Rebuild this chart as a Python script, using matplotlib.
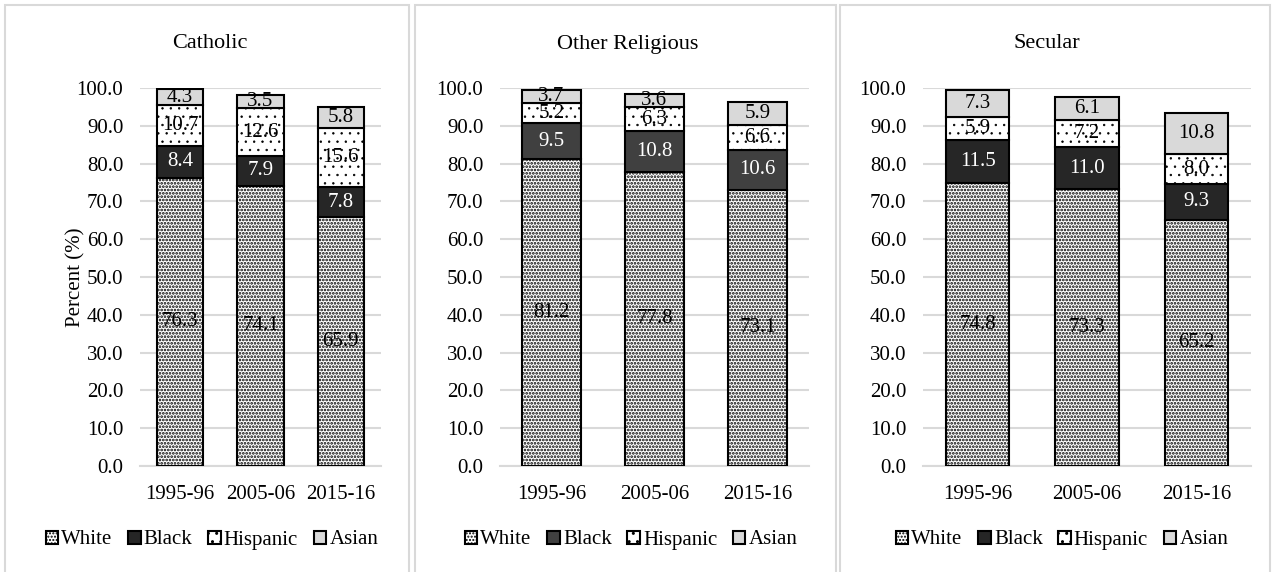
import matplotlib
matplotlib.use("Agg")
import matplotlib.pyplot as plt
from matplotlib.patches import Rectangle
import numpy as np

plt.rcParams['font.family'] = ['Liberation Serif', 'DejaVu Serif']

years = ["1995-96", "2005-06", "2015-16"]
sectors = ["Catholic", "Other Religious", "Secular"]
races = ["White", "Black", "Hispanic", "Asian"]

catholic_white = [76.3, 74.1, 65.9]
catholic_black = [8.4, 7.9, 7.8]
catholic_hispanic = [10.7, 12.6, 15.6]
catholic_asian = [4.3, 3.5, 5.8]

other_white = [81.2, 77.8, 73.1]
other_black = [9.5, 10.8, 10.6]
other_hispanic = [5.2, 6.3, 6.6]
other_asian = [3.7, 3.6, 5.9]

secular_white = [74.8, 73.3, 65.2]
secular_black = [11.5, 11.0, 9.3]
secular_hispanic = [5.9, 7.2, 8.0]
secular_asian = [7.3, 6.1, 10.8]

yticks = [0, 10, 20, 30, 40, 50, 60, 70, 80, 90, 100]

data = {
    "Catholic": [catholic_white, catholic_black, catholic_hispanic, catholic_asian],
    "Other Religious": [other_white, other_black, other_hispanic, other_asian],
    "Secular": [secular_white, secular_black, secular_hispanic, secular_asian],
}

W, H = 1276, 572
fig = plt.figure(figsize=(W / 100, H / 100), dpi=100)

def fx(px):
    return px / W

def fy(py):
    return 1 - py / H

panels = [(5, 409), (415, 836), (840, 1270)]
for l, r in panels:
    fig.add_artist(Rectangle((fx(l), fy(600)), fx(r - l), (600 - 5) / H,
                             transform=fig.transFigure, fill=False,
                             edgecolor='#d9d9d9', linewidth=1.5))

axes_px = [(140, 381), (500, 809), (923, 1251)]
title_x = [210, 628, 1047]
legend_x = [212, 631, 1062]
ytop, ybot = 88, 466
black_colors = ['#262626', '#404040', '#262626']
fills = ['white', None, 'white', '#d9d9d9']
hatches = ['.....', None, '..', None]
hatch_lw = [1.3, 1.0, 0.5, 1.0]
fs = 15

for i, sector in enumerate(sectors):
    l, r = axes_px[i]
    ax = fig.add_axes([fx(l), fy(ybot), fx(r - l), (ybot - ytop) / H])
    x = np.arange(len(years))
    bottom = np.zeros(len(years))
    handles = []
    for j, race in enumerate(races):
        vals = np.array(data[sector][j])
        fc = black_colors[i] if j == 1 else fills[j]
        with plt.rc_context({'hatch.linewidth': hatch_lw[j]}):
            bars = ax.bar(x, vals, 0.58, bottom=bottom, edgecolor='black',
                          linewidth=1.5, zorder=3, label=race, facecolor=fc,
                          hatch=hatches[j])
        for b in bars:
            if hasattr(b, 'set_hatch_linewidth'):
                b.set_hatch_linewidth(hatch_lw[j])
        tc = 'white' if j == 1 else 'black'
        for xi, v, b0 in zip(x, vals, bottom):
            ax.text(xi, b0 + v / 2, f"{v:.1f}", ha='center', va='center',
                    fontsize=fs, color=tc, zorder=5)
        bottom += vals
        handles.append(bars)
    ax.set_xlim(-0.5, 2.5)
    ax.set_ylim(0, 100)
    ax.set_yticks(yticks)
    ax.set_yticklabels([f"{t:.1f}" for t in yticks], fontsize=fs)
    ax.set_xticks(x)
    ax.set_xticklabels(years, fontsize=fs)
    ax.yaxis.grid(True, color='#d9d9d9', linewidth=1.5, zorder=0)
    ax.set_axisbelow(True)
    for s in ['top', 'right', 'left']:
        ax.spines[s].set_visible(False)
    ax.spines['bottom'].set_color('#d9d9d9')
    ax.spines['bottom'].set_linewidth(1.5)
    ax.tick_params(axis='x', length=0, pad=14)
    ax.tick_params(axis='y', length=0, pad=12)
    fig.text(fx(title_x[i]), fy(44), sector, ha='center', va='center', fontsize=16)
    if i == 0:
        fig.text(fx(76), fy(277), "Percent (%)", rotation=90, ha='center',
                 va='center', fontsize=fs)
    fig.legend(handles=handles, labels=races, loc='center',
               bbox_to_anchor=(fx(legend_x[i]), fy(540)), ncol=4, frameon=False,
               fontsize=fs, handlelength=0.6, handleheight=0.6,
               handletextpad=0.15, columnspacing=0.75)

fig.savefig("out.png", dpi=100)
